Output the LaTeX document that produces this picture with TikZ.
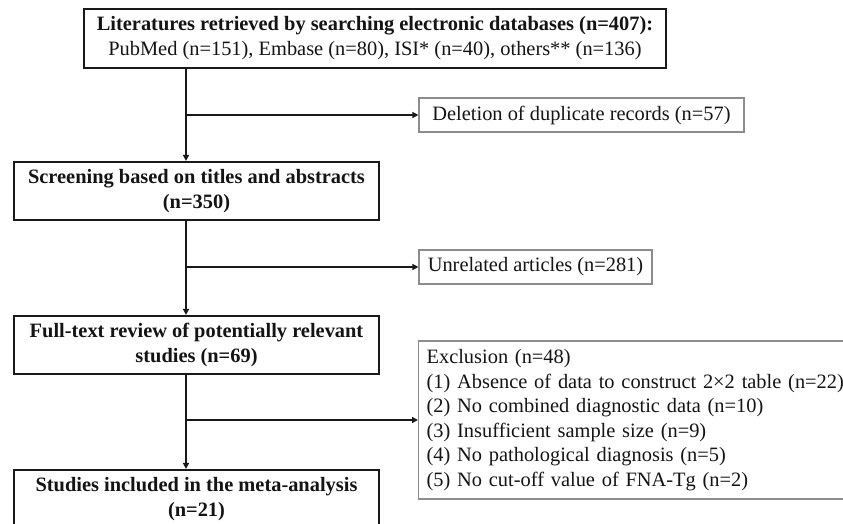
\documentclass[tikz,border=0pt]{standalone}
\usepackage{fontspec}
\setmainfont{Liberation Serif}
\usetikzlibrary{arrows.meta}
\begin{document}
\begin{tikzpicture}[x=0.75pt,y=-0.75pt,
  txt/.style={font=\fontsize{15.3}{18.4}\selectfont, text=black!92},
  mainbox/.style={txt, draw=black!90, line width=1.6pt, fill=white,
    font=\fontsize{15.3}{18.75}\selectfont\bfseries, align=center, inner sep=0pt},
  sidebox/.style={txt, draw=black!45, line width=0.9pt, fill=white,
    align=center, inner sep=0pt},
  flow/.style={draw=black!90, line width=1.3pt, -{Triangle[length=4.5pt,width=4.5pt]}}
]
\useasboundingbox (0,0) rectangle (843,524);

% main column
\node[mainbox, minimum width=436.5pt, minimum height=44.25pt] (src) at (375,38.5)
  {\fontsize{15.3}{18}\selectfont Literatures retrieved by searching electronic databases (n=407):\\
   \mdseries PubMed (n=151), Embase (n=80), ISI* (n=40), others** (n=136)};
\node[mainbox, minimum width=273.75pt, minimum height=43.5pt] (scr) at (196.5,191)
  {Screening based on titles and abstracts\\(n=350)};
\node[mainbox, minimum width=273.75pt, minimum height=43.5pt] (full) at (196.5,345)
  {Full-text review of potentially relevant\\studies (n=69)};
\node[mainbox, minimum width=273.75pt, minimum height=43.5pt] (incl) at (196.5,499)
  {Studies included in the meta-analysis\\(n=21)};

% exclusions on the right
\node[sidebox, minimum width=243.75pt, minimum height=25.5pt] (dup) at (581.5,115)
  {Deletion of duplicate records (n=57)};
\node[sidebox, minimum width=174.75pt, minimum height=25.5pt] (unrel) at (535.5,267)
  {Unrelated articles (n=281)};
\node[sidebox, align=left, inner xsep=6pt, text width=330pt, minimum height=118.5pt,
      anchor=west] (excl) at (418,420)
  {Exclusion (n=48)\\
   (1) Absence of data to construct 2\texttimes2 table (n=22)\\
   (2) No combined diagnostic data (n=10)\\
   (3) Insufficient sample size (n=9)\\
   (4) No pathological diagnosis (n=5)\\
   (5) No cut-off value of FNA-Tg (n=2)};

% connectors
\coordinate (spine) at (186,0);
\draw[flow] (spine |- src.south) -- (spine |- scr.north);
\draw[flow] (spine |- scr.south) -- (spine |- full.north);
\draw[flow] (spine |- full.south) -- (spine |- incl.north);
\draw[flow] (spine |- dup.west) -- (dup.west);
\draw[flow] (spine |- unrel.west) -- (unrel.west);
\draw[flow] (spine |- excl.west) -- (excl.west);
\end{tikzpicture}
\end{document}
